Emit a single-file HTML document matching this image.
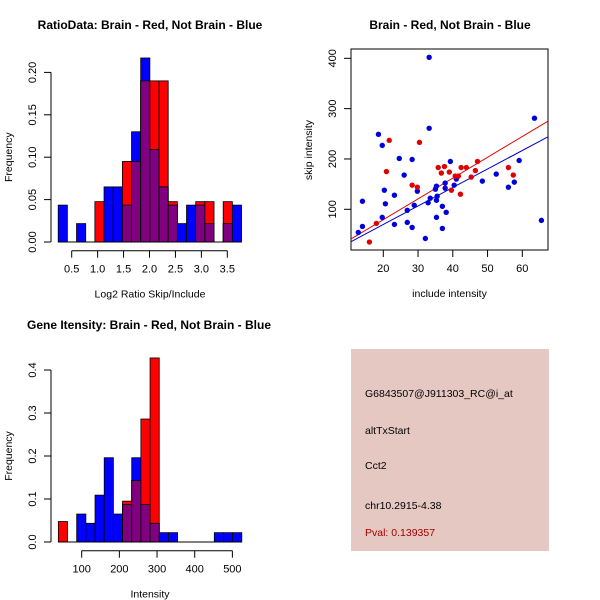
<!DOCTYPE html>
<html><head><meta charset="utf-8"><style>
body{margin:0;background:#fff}
svg{display:block;font-family:"Liberation Sans",sans-serif}
.t{font-weight:bold;font-size:12px}
.l{font-size:10.5px}
</style></head><body>
<svg id="s" width="600" height="600" viewBox="0 0 600 600">
<rect width="600" height="600" fill="#fff"/>
<text class="t" x="150" y="29" text-anchor="middle">RatioData: Brain - Red, Not Brain - Blue</text>
<text class="t" x="450" y="29" text-anchor="middle">Brain - Red, Not Brain - Blue</text>
<text class="t" x="149" y="329" text-anchor="middle">Gene Itensity: Brain - Red, Not Brain - Blue</text>
<g id="h1"></g>
<g id="sc"></g>
<g id="h2"></g>
<g>
<rect x="351" y="349" width="198" height="202" fill="#e6c8c2"/>
<text class="l" x="365" y="397">G6843507@J911303_RC@i_at</text>
<text class="l" x="365" y="434">altTxStart</text>
<text class="l" x="365" y="469">Cct2</text>
<text class="l" x="365" y="509">chr10.2915-4.38</text>
<text class="l" x="365" y="536" fill="#a00000">Pval: 0.139357</text>
</g>
</svg>
<script>
// Ratio histogram data
const ratioBinStart = 0.24, ratioBinWidth = 0.1767;
const ratioBlue = [0.0435,0,0.0217,0,0,0.065,0.065,0.0435,0.13,0.217,0.109,0.065,0.0435,0.0217,0.0435,0.0435,0.0217,0,0.0217,0.0435];
const ratioRed  = [0,0,0,0,0.0476,0,0,0.095,0.095,0.19,0.19,0.19,0.0476,0,0,0.0476,0.0476,0,0.0476,0];
const ratioXTicks = [0.5,1.0,1.5,2.0,2.5,3.0,3.5];
const ratioYTicks = [0,0.05,0.10,0.15,0.20];
// Intensity histogram data
const intBinStart = 38, intBinWidth = 24.35;
const intBlue = [0,0,0.065,0.0435,0.109,0.196,0.065,0.087,0.196,0.087,0.0435,0.0217,0.0217,0,0,0,0,0.0217,0.0217,0.0217];
const intRed  = [0.0476,0,0,0,0,0,0,0.095,0.143,0.286,0.428,0,0,0,0,0,0,0,0,0];
const intXTicks = [100,200,300,400,500];
const intYTicks = [0,0.1,0.2,0.3,0.4];
// Scatter data
const blueX = [12.8,14.0,14.0,18.6,19.7,19.7,20.3,20.6,23.2,23.2,24.6,26.0,26.9,26.9,28.3,28.3,28.9,29.8,32.1,33.2,33.2,32.9,33.5,35.0,35.3,35.3,35.5,35.3,37.0,37.0,37.8,37.8,38.1,39.3,40.4,41.0,48.5,52.5,56.0,57.7,59.1,63.5,65.5];
const blueY = [54,66,116,249,227,84,138,111,128,70,201,168,98,74,199,64,108,136,42,402,261,113,122,140,146,118,126,84,106,62,152,142,94,195,148,160,156,170,144,154,197,281,78];
const redX = [16.0,18.0,20.9,21.7,28.3,29.8,30.4,35.8,36.7,37.6,39.0,39.6,40.7,41.6,42.2,42.4,43.9,45.3,46.5,47.1,56.0,57.4];
const redY = [35,72,175,237,148,144,233,183,172,185,174,138,166,166,130,183,183,164,177,195,183,168];
const redFit = [-3.2, 4.13];   // intercept, slope
const blueFit = [-3.7, 3.675];
const scXTicks = [20,30,40,50,60];
const scYTicks = [100,200,300,400];

const NS='http://www.w3.org/2000/svg';
function mk(p,tag,at){const e=document.createElementNS(NS,tag);for(const k in at)e.setAttribute(k,at[k]);p.appendChild(e);return e;}

function hist(g,start,w,blue,red,xt,yt,xs,ys,fmtY,xlabel,yAxisX,xAxisY,x0){
  for(let i=0;i<blue.length;i++){
    const a=start+i*w,b=a+w;
    const hs=[[blue[i],'#0000ff'],[red[i],'#ff0000'],[Math.min(blue[i],red[i]),'#800080']];
    hs.forEach((h,j)=>{ if(h[0]>0){
      const r=mk(g,'rect',{x:xs(a),y:ys(h[0]),width:xs(b)-xs(a),height:ys(0)-ys(h[0]),fill:h[1],stroke:'#000','stroke-width':0.8});
      
      
    }});
  }
  const xl=mk(g,'line',{x1:xs(start),x2:xs(start+blue.length*w),y1:ys(0),y2:ys(0),stroke:'#000'});
  
  
  const ax=mk(g,'g',{});
  
  
  mk(ax,'line',{x1:xs(xt[0]),x2:xs(xt[xt.length-1]),y1:xAxisY,y2:xAxisY,stroke:'#000'});
  xt.forEach(v=>{mk(ax,'line',{x1:xs(v),x2:xs(v),y1:xAxisY,y2:xAxisY+7,stroke:'#000'});
    const t=mk(ax,'text',{x:xs(v),y:xAxisY+22,'text-anchor':'middle','font-size':'11px'});t.textContent=(typeof v==='number'&&x0)?v.toFixed(1):v;});
  const ay=mk(g,'g',{});
  
  
  mk(ay,'line',{x1:yAxisX,x2:yAxisX,y1:ys(yt[0]),y2:ys(yt[yt.length-1]),stroke:'#000'});
  yt.forEach(v=>{mk(ay,'line',{x1:yAxisX,x2:yAxisX-7,y1:ys(v),y2:ys(v),stroke:'#000'});
    const t=mk(ay,'text',{x:yAxisX-15,y:ys(v),'text-anchor':'middle','font-size':'11px',transform:`rotate(-90 ${yAxisX-15} ${ys(v)})`});t.textContent=fmtY(v);});
  const tx=mk(g,'text',{x:150,y:xAxisY+47,'text-anchor':'middle','font-size':'10.5px'});tx.textContent=xlabel;
  
  
  const ty=mk(g,'text',{x:12,y:ys(0)-(ys(0)-ys(yt[yt.length-1]))/2,'text-anchor':'middle','font-size':'10.5px',transform:`rotate(-90 12 ${ys(0)-(ys(0)-ys(yt[yt.length-1]))/2})`});ty.textContent='Frequency';
  
  
}
// hist 1
{
  const xs=v=>71.7+(v-0.5)*51.87, ys=v=>242-v*848;
  hist(document.getElementById('h1'),ratioBinStart,ratioBinWidth,ratioBlue,ratioRed,ratioXTicks,ratioYTicks,xs,ys,v=>v.toFixed(2),'Log2 Ratio Skip/Include',51,250.7,true);
}
// hist 2
{
  const xs=v=>81.7+(v-100)*0.3767, ys=v=>542-v*430;
  hist(document.getElementById('h2'),intBinStart,intBinWidth,intBlue,intRed,intXTicks,intYTicks,xs,ys,v=>v.toFixed(1),'Intensity',51,550.7,false);
}
// scatter
{
  const g=document.getElementById('sc');
  const xs=v=>383.3+(v-20)*3.475, ys=v=>209.3-(v-100)*0.5033;
  const L=351,R=548,T=49,B=250;
  const box=mk(g,'rect',{x:L,y:T,width:R-L,height:B-T,fill:'none',stroke:'#000'});
  
  
  const cp=mk(g,'clipPath',{id:'cp'});mk(cp,'rect',{x:L,y:T,width:R-L,height:B-T});
  const x0=(L-383.3)/3.475+20, x1=(R-383.3)/3.475+20;
  [[redFit,'#e00000','fit-line-red'],[blueFit,'#0000cc','fit-line-blue']].forEach(f=>{
    const l=mk(g,'line',{x1:xs(x0),x2:xs(x1),y1:ys(f[0][0]+f[0][1]*x0),y2:ys(f[0][0]+f[0][1]*x1),stroke:f[1],'stroke-width':1,'clip-path':'url(#cp)'});
    
    
  });
  blueX.forEach((x,i)=>{const c=mk(g,'circle',{cx:xs(x),cy:ys(blueY[i]),r:2.7,fill:'#0000dd'});
    
    });
  redX.forEach((x,i)=>{const c=mk(g,'circle',{cx:xs(x),cy:ys(redY[i]),r:2.7,fill:'#e00000'});
    
    });
  const ax=mk(g,'g',{});
  
  
  scXTicks.forEach(v=>{mk(ax,'line',{x1:xs(v),x2:xs(v),y1:B,y2:B+7,stroke:'#000'});
    const t=mk(ax,'text',{x:xs(v),y:B+22,'text-anchor':'middle','font-size':'11px'});t.textContent=v;});
  const ay=mk(g,'g',{});
  
  
  scYTicks.forEach(v=>{mk(ay,'line',{x1:L,x2:L-7,y1:ys(v),y2:ys(v),stroke:'#000'});
    const t=mk(ay,'text',{x:L-15,y:ys(v),'text-anchor':'middle','font-size':'11px',transform:`rotate(-90 ${L-15} ${ys(v)})`});t.textContent=v;});
  const tx=mk(g,'text',{x:449.5,y:297,'text-anchor':'middle','font-size':'10.5px'});tx.textContent='include intensity';
  
  
  const ty=mk(g,'text',{x:312,y:150,'text-anchor':'middle','font-size':'10.5px',transform:'rotate(-90 312 150)'});ty.textContent='skip intensity';
  
  
}
</script>
</body></html>
